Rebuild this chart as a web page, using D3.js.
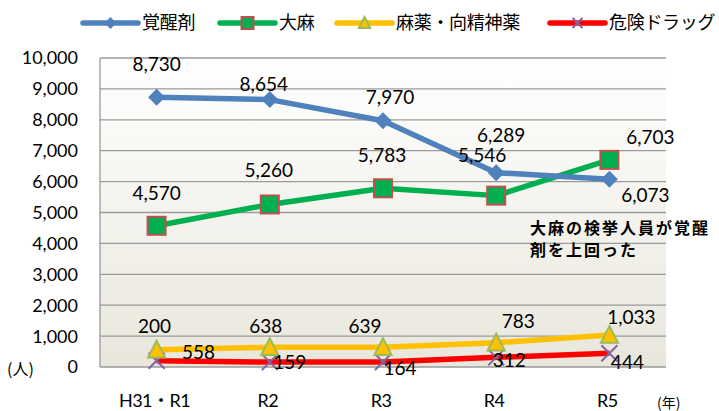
<!DOCTYPE html>
<html>
<head>
<meta charset="utf-8">
<script src="https://cdn.jsdelivr.net/npm/d3@7"></script>
<style>
  body { margin: 0; background: #fff; }
  text { font-family: Lato, "Noto Sans CJK JP", sans-serif; fill: #000; }
  .jp { font-family: "Noto Sans CJK JP", sans-serif; }
</style>
</head>
<body>
<script>
var width = 719,
    height = 411;

// data
var years = ["H31・R1", "R2", "R3", "R4", "R5"];
var stimulants = [8730, 8654, 7970, 6289, 6073];
var cannabis = [4570, 5260, 5783, 5546, 6703];
var narcotics = [558, 638, 639, 783, 1033];
var dangerDrugs = [200, 159, 164, 312, 444];
var yTicks = [0, 1000, 2000, 3000, 4000, 5000, 6000, 7000, 8000, 9000, 10000];

var series = [
  {name: "覚醒剤", values: stimulants, color: "#4f81bd", marker: "diamond",
   lab: [[0, -33], [-6, -15], [7, -24], [5, -38], [36, 16]]},
  {name: "大麻", values: cannabis, color: "#00b050", marker: "square",
   lab: [[0, -33], [-1, -34], [-1, -33], [-14, -40], [41, -23]]},
  {name: "麻薬・向精神薬", values: narcotics, color: "#ffc000", marker: "triangle",
   lab: [[42, 2], [-4, -21], [-18, -21], [22, -22], [22, -18]]},
  {name: "危険ドラッグ", values: dangerDrugs, color: "#ff0000", marker: "x",
   lab: [[-2, -35], [20, 0], [17, 6], [13, 3], [18, 9]]}
];

var margin = {top: 58, right: 53, bottom: 44, left: 100};

var x = d3.scaleBand()
  .domain(years)
  .range([margin.left, width - margin.right]);

var y = d3.scaleLinear()
  .domain([0, 10000])
  .range([height - margin.bottom, margin.top]);

var svg = d3.select("body").append("svg")
  .attr("width", width)
  .attr("height", height);

var grad = svg.append("defs").append("linearGradient")
  .attr("id", "bg")
  .attr("x1", 0).attr("y1", 0).attr("x2", 0).attr("y2", 1);
grad.append("stop").attr("offset", "0%").attr("stop-color", "#ffffff");
grad.append("stop").attr("offset", "100%").attr("stop-color", "#e9e7dc");

svg.append("rect")
  .attr("x", margin.left)
  .attr("y", y(10000))
  .attr("width", x.range()[1] - margin.left)
  .attr("height", y(0) - y(10000))
  .attr("fill", "url(#bg)");

// gridlines
svg.append("g")
  .selectAll("line")
  .data(yTicks)
  .enter().append("line")
    .attr("x1", margin.left)
    .attr("x2", x.range()[1])
    .attr("y1", function(d) { return y(d); })
    .attr("y2", function(d) { return y(d); })
    .attr("stroke", "#9a9a9a")
    .attr("stroke-width", 1.3);

svg.append("line")
  .attr("x1", margin.left).attr("x2", margin.left)
  .attr("y1", y(10000)).attr("y2", y(0))
  .attr("stroke", "#9a9a9a")
  .attr("stroke-width", 1.3);

// y axis labels
svg.append("g")
  .selectAll("text")
  .data(yTicks)
  .enter().append("text")
    .attr("x", 78)
    .attr("y", function(d) { return y(d); })
    .attr("dy", "0.36em")
    .attr("text-anchor", "end")
    .style("font-size", "18px")
    .text(function(d) { return d3.format(",")(d); });

svg.append("text")
  .attr("class", "jp")
  .attr("x", 7)
  .attr("y", y(0) + 2)
  .attr("dy", "0.36em")
  .style("font-size", "16px")
  .text("(人)");

// x axis labels
svg.append("g")
  .selectAll("text")
  .data(years)
  .enter().append("text")
    .attr("x", function(d) { return x(d) + x.bandwidth() / 2 - 2; })
    .attr("y", 407)
    .attr("text-anchor", "middle")
    .style("font-size", "18px")
    .style("letter-spacing", "-0.5px")
    .text(function(d) { return d; });

svg.append("text")
  .attr("class", "jp")
  .attr("x", 657)
  .attr("y", 408)
  .style("font-size", "14px")
  .text("(年)");

var line = d3.line()
  .x(function(d, i) { return x(years[i]) + x.bandwidth() / 2; })
  .y(function(d) { return y(d); });

function drawMarker(g, type, color, s) {
  if (type === "diamond") {
    g.append("path")
      .attr("d", "M0," + (-s) + "L" + s + ",0L0," + s + "L" + (-s) + ",0Z")
      .attr("fill", color);
  } else if (type === "square") {
    g.append("rect")
      .attr("x", -s).attr("y", -s)
      .attr("width", 2 * s).attr("height", 2 * s)
      .attr("fill", color)
      .attr("stroke", "#c0504d")
      .attr("stroke-width", 2);
  } else if (type === "triangle") {
    g.append("path")
      .attr("d", "M0," + (-s) + "L" + (s * 0.95) + "," + (s * 0.85) + "L" + (-s * 0.95) + "," + (s * 0.85) + "Z")
      .attr("fill", "#ffc000")
      .attr("stroke", "#9bbb59")
      .attr("stroke-width", 2);
  } else {
    g.append("path")
      .attr("d", "M" + (-s) + "," + (-s) + "L" + s + "," + s + "M" + s + "," + (-s) + "L" + (-s) + "," + s)
      .attr("stroke", "#8064a2")
      .attr("stroke-width", 2)
      .attr("fill", "none");
  }
}

var markerSize = {diamond: 8.5, square: 9, triangle: 9, x: 8};

// draw from back to front: narcotics, danger drugs under main series
series.slice().reverse().forEach(function(s) {
  svg.append("path")
    .datum(s.values)
    .attr("fill", "none")
    .attr("stroke", s.color)
    .attr("stroke-width", 5.5)
    .attr("stroke-linejoin", "round")
    .attr("d", line);
});

series.slice().reverse().forEach(function(s) {
  s.values.forEach(function(v, i) {
    var g = svg.append("g")
      .attr("transform", "translate(" + (x(years[i]) + x.bandwidth() / 2) + "," + y(v) + ")");
    drawMarker(g, s.marker, s.color, markerSize[s.marker]);
  });
});

// data labels
series.forEach(function(s) {
  svg.append("g")
    .selectAll("text")
    .data(s.values)
    .enter().append("text")
      .attr("x", function(d, i) { return x(years[i]) + x.bandwidth() / 2 + s.lab[i][0]; })
      .attr("y", function(d, i) { return y(d) + s.lab[i][1]; })
      .attr("dy", "0.36em")
      .attr("text-anchor", "middle")
      .style("font-size", "19px")
      .text(function(d) { return d3.format(",")(d); });
});

// annotation
svg.append("text")
  .attr("class", "jp")
  .attr("x", 530)
  .attr("y", 234)
  .style("font-size", "16px")
  .style("font-weight", "bold")
  .style("letter-spacing", "2px")
  .text("大麻の検挙人員が覚醒");
svg.append("text")
  .attr("class", "jp")
  .attr("x", 530)
  .attr("y", 256)
  .style("font-size", "16px")
  .style("font-weight", "bold")
  .style("letter-spacing", "2px")
  .text("剤を上回った");

// legend
var legendX = [83, 220, 337, 550];
var legend = svg.append("g")
  .selectAll("g")
  .data(series)
  .enter().append("g")
    .attr("transform", function(d, i) { return "translate(" + legendX[i] + ",23)"; });

legend.append("line")
  .attr("x1", 0).attr("x2", 55)
  .attr("stroke", function(d) { return d.color; })
  .attr("stroke-width", 5.5)
  .attr("stroke-linecap", "round");

legend.each(function(d) {
  var g = d3.select(this).append("g").attr("transform", "translate(27.5,0)");
  drawMarker(g, d.marker, d.color, d.marker === "x" ? 5 : 6);
});

legend.append("text")
  .attr("class", "jp")
  .attr("x", 59)
  .attr("dy", "0.36em")
  .style("font-size", "18px")
  .style("letter-spacing", "-0.3px")
  .text(function(d) { return d.name; });
</script>
</body>
</html>
